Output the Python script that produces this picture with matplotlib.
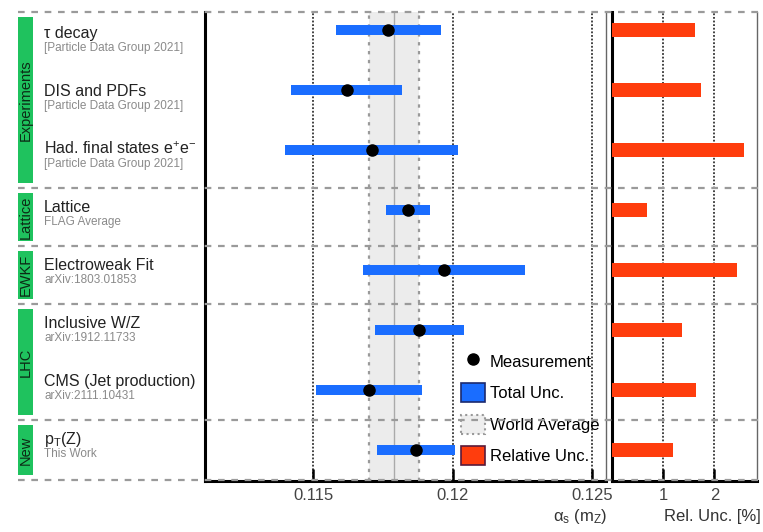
import numpy as np
import matplotlib.pyplot as plt
from matplotlib.patches import Patch, Rectangle
from matplotlib.lines import Line2D

plt.rcParams['font.family'] = ['Liberation Sans', 'DejaVu Sans']
plt.rcParams['mathtext.fontset'] = 'custom'
plt.rcParams['mathtext.rm'] = 'Liberation Sans'
plt.rcParams['mathtext.it'] = 'Liberation Sans:italic'
plt.rcParams['mathtext.default'] = 'regular'

# alpha_s(mZ) determinations
names = ['τ decay', 'DIS and PDFs', 'Had. final states e$^{+}$e$^{-}$', 'Lattice',
         'Electroweak Fit', 'Inclusive W/Z', 'CMS (Jet production)', 'p$_{T}$(Z)']
refs = ['[Particle Data Group 2021]', '[Particle Data Group 2021]', '[Particle Data Group 2021]',
        'FLAG Average', 'arXiv:1803.01853', 'arXiv:1912.11733', 'arXiv:2111.10431', 'This Work']
alphas = [0.1177, 0.1162, 0.1171, 0.1184, 0.1197, 0.1188, 0.1170, 0.1187]
tot_unc = [0.0019, 0.0020, 0.0031, 0.0008, 0.0029, 0.0016, 0.0019, 0.0014]
rel_unc = [1.62, 1.73, 2.58, 0.69, 2.43, 1.36, 1.64, 1.20]

world_avg = 0.1179
world_unc = 0.0009

groups = ['Experiments', 'Lattice', 'EWKF', 'LHC', 'New']
group_first = [0, 3, 4, 5, 7]
group_last = [2, 3, 4, 6, 7]

c_blue = '#1a6dff'
c_red = '#ff3d0d'
c_green = '#1fc25e'

W, H = 763, 532
fig = plt.figure(figsize=(W / 100, H / 100), dpi=100)
y_top, y_bot = 12, 481
ax = fig.add_axes([205 / W, 1 - y_bot / H, (606 - 205) / W, (y_bot - y_top) / H])
axr = fig.add_axes([612 / W, 1 - y_bot / H, (757 - 612) / W, (y_bot - y_top) / H])

rows = np.arange(len(names))

# --- alpha_s panel ---
ax.axvspan(world_avg - world_unc, world_avg + world_unc, color='#ececec', lw=0, zorder=0)
for xv in (world_avg - world_unc, world_avg + world_unc):
    ax.axvline(xv, color='#9a9a9a', ls=(0, (1.5, 2.5)), lw=1.6, zorder=1)
ax.axvline(world_avg, color='#aaaaaa', lw=1.0, zorder=1)
for xv in (0.115, 0.12, 0.125):
    ax.axvline(xv, color='#333333', ls=(0, (1, 1)), lw=1.3, zorder=1)

ax.barh(rows, 2 * np.array(tot_unc), left=np.array(alphas) - np.array(tot_unc),
        height=0.16, color=c_blue, zorder=3)
ax.plot(alphas, rows, 'o', color='black', ms=8, zorder=4)

ax.set_xlim(0.11112, 0.1255)
ax.set_ylim(7.517, -0.3)
ax.set_yticks([])
ax.set_xticks([0.115, 0.12, 0.125])
ax.set_xticklabels(['0.115', '0.12', '0.125'])

# --- relative uncertainty panel ---
for xv in (1, 2):
    axr.axvline(xv, color='#333333', ls=(0, (1, 1)), lw=1.3, zorder=1)
axr.barh(rows, rel_unc, left=0, height=0.22, color=c_red, zorder=3)
axr.set_xlim(0, 2.83)
axr.set_ylim(7.517, -0.3)
axr.set_yticks([])
axr.set_xticks([1, 2])
axr.set_xticklabels(['1', '2'])

for a in (ax, axr):
    a.spines['top'].set_visible(False)
    a.spines['left'].set_linewidth(2.2)
    a.spines['bottom'].set_linewidth(2.2)
    a.spines['right'].set_color('#666666')
    a.spines['right'].set_linewidth(1.0)
    a.tick_params(axis='x', direction='in', length=9, width=1.8, pad=5,
                  labelsize=12, labelcolor='#444444')

fig.text(607 / W, 1 - 517 / H, r'$\alpha_{s}$ (m$_{Z}$)', ha='right', va='center',
         fontsize=12, color='#333333')
fig.text(761 / W, 1 - 517 / H, 'Rel. Unc. [%]', ha='right', va='center',
         fontsize=12, color='#333333')

# legend
handles = [Line2D([], [], marker='o', color='black', ls='none', ms=8),
           Patch(facecolor=c_blue, edgecolor='#1c2a6e', lw=1.2),
           Patch(facecolor='#eeeeee', edgecolor='#999999', ls=':', lw=1.5),
           Patch(facecolor=c_red, edgecolor='#5a1a3a', lw=1.2)]
ax.legend(handles, ['Measurement', 'Total Unc.', 'World Average', 'Relative Unc.'],
          loc='lower left', bbox_to_anchor=(0.638, 0.034), frameon=False,
          fontsize=12, borderpad=0, borderaxespad=0, handlelength=1.44,
          handleheight=1.38, handletextpad=0.3, labelspacing=0.74)

# --- row labels, group bars and separators (own overlay axes) ---
lab = fig.add_axes([0, 1 - y_bot / H, 1, (y_bot - y_top) / H], zorder=5)
lab.set_xlim(0, 1)
lab.set_ylim(7.55, -0.53)
lab.axis('off')

edges = [-0.53] + [g + 0.5 for g in group_last[:-1]] + [7.53]
for e in edges:
    lab.plot([0.024, 0.995], [e, e], color='#9a9a9a', ls=(0, (3, 3)), lw=1.6,
             clip_on=False)

for i, g in enumerate(groups):
    y0 = edges[i] + 0.08
    y1 = edges[i + 1] - 0.08
    lab.add_patch(Rectangle((0.024, y0), 0.019, y1 - y0, color=c_green, lw=0))
    lab.text(0.0335, (y0 + y1) / 2, g, rotation=90, ha='center', va='center',
             fontsize=10.5, color='#0c2a15')

for i in rows:
    lab.text(0.0577, i - 0.086, names[i], ha='left', va='baseline', fontsize=11.5,
             color='#222222')
    lab.text(0.0577, i + 0.138, refs[i], ha='left', va='baseline', fontsize=8.5,
             color='#8a8a8a')

plt.savefig('out.png', dpi=100)
